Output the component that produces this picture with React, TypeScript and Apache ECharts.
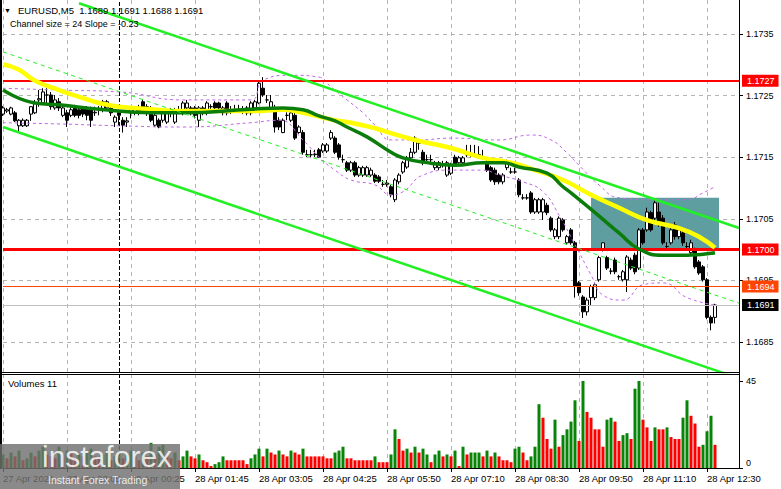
import React, { useEffect, useRef } from 'react';
import * as echarts from 'echarts';

const FONT = '"Liberation Sans", Arial, sans-serif';
const SLOTS = 185;
const categories = Array.from({ length: SLOTS }, (_, i) => String(i));
const tickLabels = ['27 Apr 2021', '27 Apr 23:05', '28 Apr 00:25', '28 Apr 01:45', '28 Apr 03:05', '28 Apr 04:25', '28 Apr 05:50', '28 Apr 07:10', '28 Apr 08:30', '28 Apr 09:50', '28 Apr 11:10', '28 Apr 12:30'];
const priceTicks = [1.1685, 1.1695, 1.1705, 1.1715, 1.1725, 1.1735];
const volumeTicks = [0, 45];
const priceMin = 1.168013;
const priceMax = 1.174052;
const volumeMax = 48.6;

// [open, close, low, high]
const candles = [
[1.17220,1.17230,1.17217,1.17233],[1.17225,1.17227,1.17222,1.17230],[1.17220,1.17230,1.17218,1.17232],[1.17222,1.17209,1.17207,1.17225],[1.17201,1.17210,1.17190,1.17212],
[1.17201,1.17210,1.17199,1.17213],[1.17201,1.17210,1.17199,1.17212],[1.17220,1.17232,1.17209,1.17233],[1.17222,1.17238,1.17220,1.17243],[1.17243,1.17245,1.17232,1.17259],
[1.17238,1.17256,1.17236,1.17262],[1.17251,1.17251,1.17238,1.17262],[1.17251,1.17232,1.17227,1.17256],[1.17230,1.17243,1.17227,1.17251],[1.17240,1.17230,1.17225,1.17246],
[1.17218,1.17230,1.17215,1.17235],[1.17222,1.17210,1.17199,1.17227],[1.17218,1.17227,1.17215,1.17232],[1.17230,1.17218,1.17215,1.17235],[1.17227,1.17218,1.17213,1.17230],
[1.17230,1.17220,1.17215,1.17233],[1.17230,1.17218,1.17210,1.17233],[1.17230,1.17210,1.17199,1.17232],[1.17222,1.17223,1.17217,1.17232],[1.17227,1.17227,1.17218,1.17233],
[1.17227,1.17240,1.17223,1.17243],[1.17230,1.17240,1.17227,1.17243],[1.17230,1.17222,1.17217,1.17233],[1.17207,1.17215,1.17199,1.17218],[1.17222,1.17218,1.17202,1.17227],
[1.17210,1.17202,1.17190,1.17215],[1.17207,1.17209,1.17199,1.17215],[1.17222,1.17230,1.17213,1.17233],[1.17222,1.17230,1.17218,1.17233],[1.17230,1.17222,1.17218,1.17235],
[1.17240,1.17227,1.17223,1.17243],[1.17232,1.17222,1.17217,1.17236],[1.17230,1.17210,1.17207,1.17233],[1.17202,1.17218,1.17199,1.17222],[1.17210,1.17199,1.17197,1.17213],
[1.17210,1.17222,1.17206,1.17225],[1.17207,1.17222,1.17204,1.17225],[1.17222,1.17222,1.17215,1.17230],[1.17207,1.17227,1.17204,1.17230],[1.17227,1.17227,1.17220,1.17233],
[1.17222,1.17238,1.17218,1.17241],[1.17230,1.17238,1.17227,1.17243],[1.17230,1.17222,1.17218,1.17233],[1.17230,1.17218,1.17213,1.17233],[1.17210,1.17230,1.17199,1.17233],
[1.17230,1.17222,1.17218,1.17233],[1.17222,1.17238,1.17218,1.17241],[1.17232,1.17232,1.17227,1.17236],[1.17238,1.17230,1.17227,1.17241],[1.17238,1.17230,1.17225,1.17240],
[1.17222,1.17230,1.17218,1.17233],[1.17238,1.17222,1.17218,1.17241],[1.17227,1.17227,1.17220,1.17233],[1.17227,1.17227,1.17222,1.17235],[1.17227,1.17227,1.17222,1.17235],
[1.17227,1.17227,1.17220,1.17233],[1.17230,1.17222,1.17218,1.17233],[1.17222,1.17238,1.17218,1.17241],[1.17230,1.17240,1.17227,1.17243],[1.17238,1.17270,1.17236,1.17275],
[1.17262,1.17251,1.17248,1.17280],[1.17243,1.17243,1.17238,1.17251],[1.17230,1.17240,1.17227,1.17251],[1.17230,1.17199,1.17190,1.17235],[1.17210,1.17199,1.17194,1.17215],
[1.17190,1.17210,1.17189,1.17213],[1.17218,1.17218,1.17210,1.17223],[1.17210,1.17222,1.17207,1.17225],[1.17218,1.17181,1.17178,1.17222],[1.17190,1.17199,1.17188,1.17202],
[1.17190,1.17158,1.17154,1.17194],[1.17154,1.17154,1.17150,1.17162],[1.17154,1.17154,1.17150,1.17162],[1.17154,1.17155,1.17150,1.17162],[1.17162,1.17150,1.17149,1.17165],
[1.17160,1.17170,1.17157,1.17173],[1.17160,1.17170,1.17157,1.17173],[1.17181,1.17190,1.17178,1.17194],[1.17181,1.17158,1.17155,1.17184],[1.17170,1.17150,1.17146,1.17173],
[1.17146,1.17146,1.17141,1.17154],[1.17141,1.17129,1.17126,1.17144],[1.17129,1.17141,1.17126,1.17144],[1.17141,1.17121,1.17118,1.17144],[1.17121,1.17133,1.17118,1.17136],
[1.17121,1.17133,1.17118,1.17136],[1.17121,1.17133,1.17118,1.17136],[1.17121,1.17129,1.17118,1.17133],[1.17121,1.17111,1.17108,1.17124],[1.17118,1.17111,1.17108,1.17121],
[1.17106,1.17106,1.17102,1.17113],[1.17106,1.17108,1.17102,1.17113],[1.17102,1.17089,1.17085,1.17105],[1.17081,1.17113,1.17077,1.17116],[1.17110,1.17121,1.17106,1.17124],
[1.17126,1.17141,1.17123,1.17144],[1.17134,1.17149,1.17131,1.17152],[1.17149,1.17158,1.17146,1.17165],[1.17158,1.17181,1.17155,1.17184],[1.17173,1.17173,1.17162,1.17178],
[1.17158,1.17141,1.17137,1.17162],[1.17146,1.17146,1.17141,1.17154],[1.17146,1.17146,1.17141,1.17154],[1.17133,1.17141,1.17129,1.17144],[1.17133,1.17141,1.17129,1.17144],
[1.17137,1.17137,1.17133,1.17144],[1.17121,1.17141,1.17118,1.17144],[1.17124,1.17137,1.17121,1.17141],[1.17150,1.17137,1.17134,1.17154],[1.17141,1.17149,1.17137,1.17152],
[1.17141,1.17149,1.17137,1.17152],[1.17154,1.17154,1.17150,1.17170],[1.17154,1.17154,1.17150,1.17170],[1.17154,1.17154,1.17150,1.17170],[1.17154,1.17154,1.17150,1.17168],
[1.17150,1.17150,1.17146,1.17162],[1.17141,1.17129,1.17126,1.17146],[1.17133,1.17113,1.17110,1.17136],[1.17129,1.17110,1.17105,1.17133],[1.17121,1.17110,1.17106,1.17124],
[1.17110,1.17121,1.17106,1.17124],[1.17133,1.17141,1.17129,1.17146],[1.17126,1.17126,1.17123,1.17133],[1.17126,1.17126,1.17123,1.17133],[1.17113,1.17089,1.17085,1.17116],
[1.17084,1.17084,1.17081,1.17090],[1.17084,1.17084,1.17081,1.17090],[1.17092,1.17061,1.17058,1.17095],[1.17061,1.17081,1.17058,1.17084],[1.17061,1.17081,1.17058,1.17084],
[1.17061,1.17081,1.17048,1.17084],[1.17072,1.17060,1.17056,1.17076],[1.17051,1.17032,1.17029,1.17054],[1.17021,1.17032,1.17017,1.17035],[1.17021,1.17051,1.17017,1.17054],
[1.17048,1.17032,1.17029,1.17051],[1.17011,1.17021,1.17008,1.17024],[1.17032,1.17011,1.17008,1.17035],[1.17011,1.16940,1.16922,1.17014],[1.16946,1.16930,1.16925,1.16949],
[1.16923,1.16899,1.16889,1.16926],[1.16899,1.16918,1.16893,1.16922],[1.16922,1.16940,1.16910,1.16943],[1.16922,1.16943,1.16918,1.16946],[1.16951,1.16987,1.16948,1.16990],
[1.17000,1.17011,1.16997,1.17012],[1.16987,1.16970,1.16967,1.16990],[1.16965,1.16965,1.16960,1.16970],[1.16983,1.16964,1.16960,1.16987],[1.16956,1.16956,1.16951,1.16959],
[1.16951,1.16964,1.16948,1.16967],[1.16951,1.16988,1.16931,1.16991],[1.16983,1.16970,1.16967,1.16987],[1.16991,1.16964,1.16960,1.16995],[1.16970,1.17032,1.16967,1.17035],
[1.17032,1.17011,1.17008,1.17035],[1.17032,1.17061,1.17029,1.17068],[1.17060,1.17032,1.17029,1.17063],[1.17051,1.17076,1.17048,1.17081],[1.17061,1.17040,1.17037,1.17076],
[1.17051,1.17011,1.17008,1.17056],[1.17005,1.17005,1.17000,1.17012],[1.17011,1.17032,1.17008,1.17035],[1.17040,1.17021,1.17016,1.17045],[1.17021,1.17032,1.17017,1.17037],
[1.17027,1.17011,1.17006,1.17032],[1.17005,1.17005,1.17000,1.17012],[1.16995,1.17011,1.16991,1.17016],[1.17000,1.16972,1.16969,1.17003],[1.16980,1.16962,1.16959,1.16983],
[1.16972,1.16951,1.16948,1.16975],[1.16951,1.16890,1.16887,1.16954],[1.16890,1.16881,1.16869,1.16893],[1.16890,1.16910,1.16880,1.16912],
];

const volumes = [
7,5,8,6,9,4,5,8,6,9, 11,7,6,5,11,7,9,8,5,7, 6,8,10,6,5,7,9,4,6,8, 5,7,9,6,4,8,6,13,7,11, 12,6,5,8,4,
6,9,6,5,7,4,3,1,2,3, 6,4,4,4,4,4,2,5,7,10, 6,10,8,7,9,7,6,9,8,7, 10,6,6,6,6,6,5,5,8,9,
11,5,5,4,4,4,4,4,6,3, 3,3,7,20,15,9,10,8,11,8, 10,7,3,7,9,6,7,6,9,1, 11,7,8,8,8,6,9,6,8,6,
4,4,3,10,11,8,4,6,11,33, 26,15,10,25,11,17,20,24,35,14, 45,29,26,20,20,11,25,26,24,14,
17,18,15,41,45,25,21,14,21,20, 20,21,16,15,15,26,35,27,23,11, 12,19,27,12,
];
const volumeDirection = ('GRGRGRGGRG' + 'GRRRGRGRRG' + 'RGGRRGGRGG' + 'RGGRRGRGRG' + 'GRRGR' +
  'GGRRGRRRGG' + 'GRRRRRRGGG' + 'RGRRGRRGRR' + 'GRRRRRRRGG' + 'GRRRRRRRGR' + 'RRGGRRGRGR' +
  'GGRGGRGRGR' + 'GRGGGRGRGR' + 'RRRGGRRGGG' + 'RRRGRGGGGR' + 'GRRRRRGGRR' + 'GGRGGRRRGR' + 'RGRRRGGRRR' + 'GGGR').split('');

const yellowMA = [[0,1.17301],[4,1.17292],[8,1.17274],[14,1.17259],[19,1.17248],[24,1.17238],[29,1.17232],[37,1.17228],[45,1.17225],[62,1.17225],[70,1.17227],[75,1.17222],[83,1.17210],[87,1.17206],[93,1.17197],[97,1.17189],[103,1.17178],[112,1.17165],[120,1.17149],[127,1.17141],[133,1.17129],[140,1.17113],[147,1.17089],[154,1.17068],[161,1.17048],[169,1.17035],[174,1.17021],[178,1.17003]];
const greenMA = [[0,1.17259],[8,1.17238],[14,1.17235],[24,1.17228],[37,1.17222],[45,1.17222],[62,1.17228],[70,1.17230],[75,1.17227],[79,1.17217],[83,1.17209],[86,1.17199],[91,1.17183],[97,1.17158],[100,1.17149],[105,1.17142],[113,1.17137],[120,1.17141],[125,1.17141],[129,1.17134],[136,1.17124],[140,1.17102],[142,1.17092],[148,1.17060],[154,1.17027],[159,1.17001],[165,1.16991],[171,1.16991],[178,1.16995]];
const bandUpper = [[0,1.17262],[14,1.17259],[29,1.17256],[45,1.17243],[62,1.17243],[65,1.17275],[72,1.17283],[79,1.17280],[82,1.17264],[86,1.17243],[90,1.17222],[93,1.17202],[97,1.17178],[104,1.17178],[112,1.17181],[124,1.17178],[132,1.17186],[137,1.17178],[141,1.17157],[144,1.17137],[149,1.17105],[154,1.17084],[162,1.17081],[171,1.17081],[175,1.17092],[178,1.17102]];
const bandLower = [[0,1.17206],[14,1.17204],[29,1.17201],[45,1.17199],[62,1.17206],[69,1.17210],[75,1.17178],[79,1.17150],[83,1.17129],[87,1.17113],[93,1.17105],[97,1.17089],[100,1.17094],[105,1.17121],[112,1.17129],[120,1.17129],[124,1.17121],[130,1.17110],[135,1.17094],[139,1.17056],[143,1.17008],[147,1.16959],[150,1.16926],[155,1.16918],[160,1.16943],[165,1.16946],[171,1.16922],[178,1.16910]];
const channelUpper = [[19,1.17400],[184,1.17035]];
const channelMiddle = [[0,1.17321],[184,1.16913]];
const channelLower = [[0,1.17199],[184,1.16791]];
const levelValues = [1.17274, 1.1700, 1.1694, 1.1691];
const levelColors = ['#ff0000', '#ff0000', '#ff4500', '#c0c0c0'];
const levelWidths = [2, 3, 1, 1];
const levelLabelBg = ['#ff0000', '#ff0000', '#ff4500', '#000000'];
const zoneStart = '147';
const zoneEnd = '179';
const zoneTop = 1.17084;
const zoneBottom = 1.17001;
const separatorIndex = '29';

const gridLine = { color: '#b4b4b4', type: [4, 4] as number[], width: 1 };

function buildOption() {
  const teeth = Array.from({ length: 8 }, (_, k) => ({
    type: 'rect', shape: { x: -3, y: -18, width: 6, height: 7 }, rotation: (k * Math.PI) / 4,
    style: { fill: 'rgba(255,255,255,0.85)' },
  }));
  return {
    animation: false,
    backgroundColor: '#ffffff',
    textStyle: { fontFamily: FONT },
    grid: [
      { left: 3, top: 0, width: 736, height: 372 },
      { left: 3, top: 374, width: 736, height: 94 },
    ],
    xAxis: [
      {
        type: 'category', gridIndex: 0, data: categories, boundaryGap: false,
        axisLine: { show: false }, axisTick: { show: false }, axisLabel: { show: false },
        splitLine: { show: true, interval: 15, lineStyle: gridLine },
      },
      {
        type: 'category', gridIndex: 1, data: categories, boundaryGap: false,
        axisLine: { show: true, lineStyle: { color: '#000', width: 1 } },
        axisTick: { show: true, interval: 15, length: 4, lineStyle: { color: '#000' } },
        axisLabel: {
          show: true, interval: 15, align: 'left', margin: 5, fontSize: 9.5, color: '#000', fontFamily: FONT,
          formatter: (_v: string, idx: number) => tickLabels[Math.round(idx / 16)] ?? '',
        },
        splitLine: { show: true, interval: 15, lineStyle: gridLine },
      },
    ],
    yAxis: [
      {
        type: 'value', gridIndex: 0, position: 'right', min: priceMin, max: priceMax,
        axisLine: { show: true, lineStyle: { color: '#000' } },
        axisTick: { show: true, length: 4, customValues: priceTicks, lineStyle: { color: '#000' } },
        axisLabel: { customValues: priceTicks, formatter: (v: number) => v.toFixed(4), fontSize: 9, color: '#000', margin: 7, fontFamily: FONT },
        splitLine: { show: true, lineStyle: gridLine },
      },
      {
        type: 'value', gridIndex: 1, position: 'right', min: 0, max: volumeMax,
        axisLine: { show: true, lineStyle: { color: '#000' } },
        axisTick: { show: true, length: 4, customValues: volumeTicks, lineStyle: { color: '#000' } },
        axisLabel: {
          customValues: volumeTicks, fontSize: 9, color: '#000', margin: 7, fontFamily: FONT,
          formatter: (v: number) => (v === 0 ? '{z|0}' : String(v)),
          rich: { z: { fontSize: 9, color: '#000', padding: [0, 0, 10, 0], fontFamily: FONT } },
        },
        splitLine: { show: false },
      },
    ],
    series: [
      {
        type: 'line', xAxisIndex: 0, yAxisIndex: 0, data: [], z: 1, silent: true,
        markArea: {
          silent: true,
          itemStyle: { color: '#5f9ea0', opacity: 1, borderWidth: 0 },
          label: { show: false },
          data: [[{ xAxis: zoneStart, yAxis: zoneTop }, { xAxis: zoneEnd, yAxis: zoneBottom }]],
        },
      },
      {
        type: 'candlestick', xAxisIndex: 0, yAxisIndex: 0, data: candles, barWidth: 3, z: 3,
        itemStyle: { color: '#ffffff', color0: '#000000', borderColor: '#000000', borderColor0: '#000000', borderColorDoji: '#000000', borderWidth: 1 },
      },
      { type: 'line', xAxisIndex: 0, yAxisIndex: 0, data: bandUpper, smooth: 0.5, symbol: 'none', z: 4, lineStyle: { color: '#c266e8', width: 1, type: [3, 3] } },
      { type: 'line', xAxisIndex: 0, yAxisIndex: 0, data: bandLower, smooth: 0.5, symbol: 'none', z: 4, lineStyle: { color: '#c266e8', width: 1, type: [3, 3] } },
      { type: 'line', xAxisIndex: 0, yAxisIndex: 0, data: yellowMA, smooth: 0.5, symbol: 'none', z: 5, lineStyle: { color: '#ffff00', width: 4.5 } },
      { type: 'line', xAxisIndex: 0, yAxisIndex: 0, data: greenMA, smooth: 0.5, symbol: 'none', z: 5, lineStyle: { color: '#0b7d0b', width: 3.5 } },
      { type: 'line', xAxisIndex: 0, yAxisIndex: 0, data: channelUpper, symbol: 'none', z: 6, lineStyle: { color: '#22f022', width: 2.5 } },
      { type: 'line', xAxisIndex: 0, yAxisIndex: 0, data: channelMiddle, symbol: 'none', z: 6, lineStyle: { color: '#22f022', width: 1, type: [4, 4] } },
      { type: 'line', xAxisIndex: 0, yAxisIndex: 0, data: channelLower, symbol: 'none', z: 6, lineStyle: { color: '#22f022', width: 2.5 } },
      {
        type: 'line', xAxisIndex: 0, yAxisIndex: 0, data: [], z: 8, silent: true,
        markLine: {
          silent: true, symbol: ['none', 'none'], precision: 5,
          data: [
            ...levelValues.map((v, k) => ({
              yAxis: v,
              lineStyle: { color: levelColors[k], width: levelWidths[k], type: 'solid' },
              label: {
                show: true, position: 'end', formatter: v.toFixed(4), color: '#ffffff',
                backgroundColor: levelLabelBg[k], padding: [1, 4, 1, 5], fontSize: 9, lineHeight: 10, distance: 3, fontFamily: FONT,
              },
            })),
            { xAxis: separatorIndex, lineStyle: { color: '#000', width: 1, type: [4, 2] }, label: { show: false } },
          ],
        },
      },
      {
        type: 'bar', xAxisIndex: 1, yAxisIndex: 1, barWidth: 3, z: 3,
        data: volumes.map((v, i) => ({ value: v, itemStyle: { color: volumeDirection[i] === 'G' ? '#088508' : '#ff0000' } })),
        markLine: {
          silent: true, symbol: ['none', 'none'],
          data: [{ xAxis: separatorIndex, lineStyle: { color: '#000', width: 1, type: [4, 2] }, label: { show: false } }],
        },
      },
    ],
    graphic: [
      { type: 'line', z: 40, shape: { x1: 1, y1: 0, x2: 1, y2: 469 }, style: { stroke: '#000', lineWidth: 2 } },
      { type: 'line', z: 40, shape: { x1: 0, y1: 372.5, x2: 740, y2: 372.5 }, style: { stroke: '#000', lineWidth: 1 } },
      { type: 'line', z: 40, shape: { x1: 0, y1: 374.5, x2: 740, y2: 374.5 }, style: { stroke: '#000', lineWidth: 1 } },
      { type: 'line', z: 40, shape: { x1: 739.5, y1: 0, x2: 739.5, y2: 469 }, style: { stroke: '#000', lineWidth: 1 } },
      { type: 'text', z: 40, x: 4, y: 10, style: { text: '▼', fill: '#000', font: `7px ${FONT}`, verticalAlign: 'middle' } },
      { type: 'text', z: 40, x: 18, y: 10, style: { text: 'EURUSD,M5  1.1689 1.1691 1.1688 1.1691', fill: '#000', font: `9.5px ${FONT}`, verticalAlign: 'middle' } },
      { type: 'text', z: 40, x: 10, y: 24, style: { text: 'Channel size = 24 Slope = -0.23', fill: '#000', font: `9px ${FONT}`, verticalAlign: 'middle' } },
      { type: 'text', z: 40, x: 8, y: 383, style: { text: 'Volumes 11', fill: '#000', font: `9.5px ${FONT}`, verticalAlign: 'middle' } },
      { type: 'rect', z: 50, shape: { x: 0, y: 444, width: 180, height: 45 }, style: { fill: 'rgba(112,112,112,0.82)' } },
      {
        type: 'group', z: 51, x: 22, y: 466,
        children: [
          { type: 'ring', shape: { cx: 0, cy: 0, r: 13, r0: 7 }, style: { fill: 'rgba(255,255,255,0.85)' } },
          ...teeth,
        ],
      },
      { type: 'text', z: 51, x: 42, y: 456, style: { text: 'instaforex', fill: 'rgba(255,255,255,0.82)', font: `30px ${FONT}`, verticalAlign: 'middle' } },
      { type: 'text', z: 51, x: 48, y: 480, style: { text: 'Instant Forex Trading', fill: 'rgba(255,255,255,0.85)', font: `10.5px ${FONT}`, verticalAlign: 'middle' } },
    ],
  };
}

export default function App() {
  const ref = useRef<HTMLDivElement>(null);
  useEffect(() => {
    if (!ref.current) return;
    const chart = echarts.init(ref.current, undefined, { renderer: 'svg' });
    chart.setOption(buildOption() as any);
    return () => chart.dispose();
  }, []);
  return <div ref={ref} style={{ position: 'fixed', left: 0, top: 0, width: 781, height: 489, background: '#fff' }} />;
}
